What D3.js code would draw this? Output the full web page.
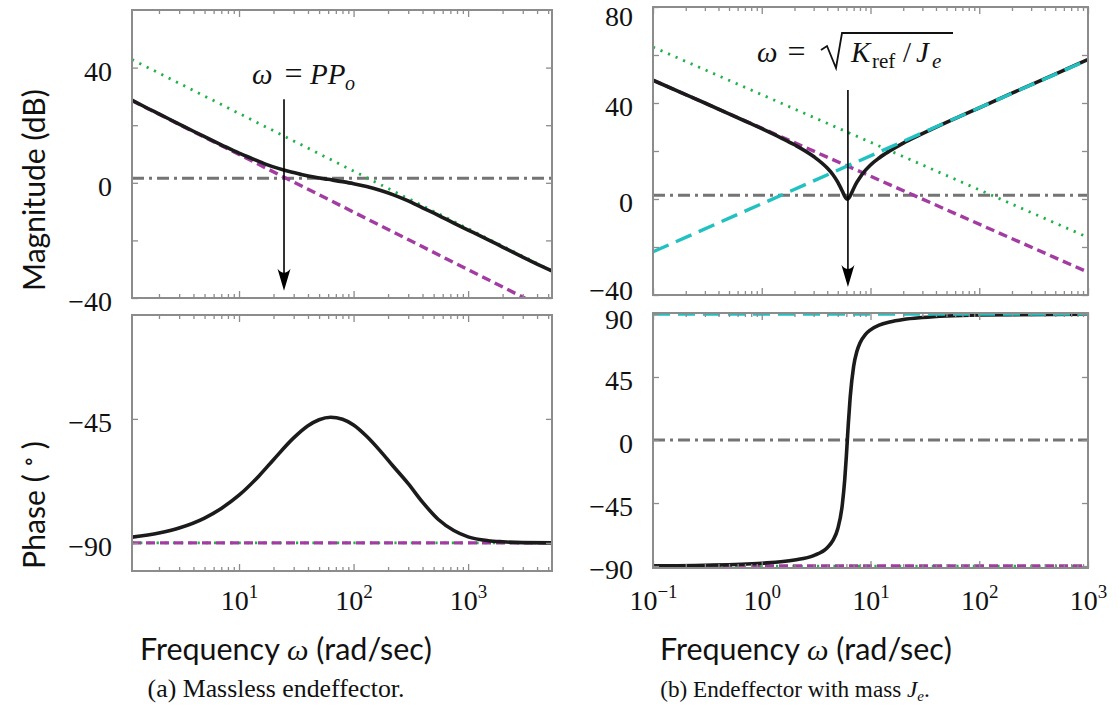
<!DOCTYPE html>
<html>
<head>
<meta charset="utf-8">
<script src="https://cdn.jsdelivr.net/npm/d3@7"></script>
<style>
  body { margin: 0; background: #fff; }
  svg { display: block; }
</style>
</head>
<body>
<svg id="fig" width="1119" height="713"></svg>
<script>
// ---------- (a) massless endeffector ----------
const freqMagA   = [1.163, 1.5, 2, 3, 4, 5, 7, 10, 13, 17, 22, 28, 35, 45, 60, 80, 100, 130, 170, 220, 300, 400, 550, 750, 1000, 1500, 2000, 3000, 4000, 5400];
const magA       = [28.7, 26.4, 23.9, 20.4, 17.9, 16.0, 13.2, 10.3, 8.4, 6.5, 5.0, 3.8, 2.9, 2.0, 1.2, 0.4, -0.3, -1.3, -2.6, -4.1, -6.3, -8.7, -11.3, -14.0, -16.4, -19.8, -22.3, -25.8, -28.2, -30.6];
const freqPhaseA = [1.163, 2, 3, 5, 7, 10, 15, 20, 30, 40, 50, 63, 80, 100, 130, 170, 220, 300, 400, 550, 750, 1000, 1500, 2000, 3000, 5400];
const phaseA     = [-87.9, -86.4, -84.6, -81.0, -77.5, -72.7, -65.6, -59.8, -51.9, -47.5, -45.3, -44.4, -45.1, -47.2, -51.3, -56.5, -62.0, -68.5, -75.2, -81.5, -85.5, -87.8, -89.2, -89.6, -89.9, -90.0];
// straight-line asymptotes, given at both ends of the frequency range
const endsA          = [1.163, 5400];
const lowMagA        = [28.5, -44.8];   // PPo / ω
const highMagA       = [42.8, -30.6];   // high-frequency asymptote
const unityMagA      = [1.6, 1.6];
const lowPhaseA      = [-90, -90];
const highPhaseA     = [-90, -90];
const magTicksA      = [-40, -20, 0, 20, 40];
const magLabelsA     = [-40, 0, 40];
const phaseTicksA    = [-90, -45];
const phaseLabelsA   = [-90, -45];
const decadesA       = [10, 100, 1000];
const arrowA         = { w: 24.7, from: 29, to: -37.5 };

// ---------- (b) endeffector with mass Je ----------
const freqMagB   = [0.1, 0.2, 0.3, 0.5, 0.7, 1, 1.5, 2, 3, 4, 4.5, 5, 5.5, 5.8, 6.0, 6.12, 6.25, 6.5, 7, 7.5, 8, 9, 10, 12, 15, 20, 30, 50, 100, 200, 500, 1000];
const magB       = [49.5, 43.5, 40.0, 35.5, 32.5, 29.3, 25.5, 22.6, 17.7, 12.9, 10.2, 7.0, 3.3, 1.1, 0.2, 0.0, 0.2, 1.3, 4.4, 7.0, 9.0, 12.0, 14.2, 17.1, 20.0, 23.3, 27.2, 31.9, 38.0, 44.1, 52.0, 58.1];
const freqPhaseB = [0.1, 0.3, 1, 2, 3, 4, 4.5, 5, 5.5, 5.8, 6.0, 6.12, 6.25, 6.5, 7, 7.5, 8, 9, 10, 12, 15, 20, 30, 50, 100, 1000];
const phaseB     = [-89.8, -89.4, -88.0, -85.7, -82.5, -76.9, -71.9, -63.4, -46.5, -28.0, -11.3, -0.3, 11.3, 30.3, 52.7, 63.4, 69.3, 75.5, 78.7, 82.0, 84.3, 86.1, 87.5, 88.6, 89.3, 89.9];
const endsB          = [0.1, 1000];
const springMagB     = [49.5, -30.5];   // Kref / ω
const stiffMagB      = [63.3, -16.0];
const massMagB       = [-22.0, 58.0];   // Je ω
const unityMagB      = [1.6, 1.6];
const springPhaseB   = [-90, -90];
const stiffPhaseB    = [-90, -90];
const massPhaseB     = [90, 90];
const zeroPhaseB     = [0, 0];
const magTicksB      = [-40, -20, 0, 20, 40, 60, 80];
const magLabelsB     = [-40, 0, 40, 80];
const phaseTicksB    = [-90, -45, 0, 45, 90];
const phaseLabelsB   = [-90, -45, 0, 45, 90];
const decadesB       = [0.1, 1, 10, 100, 1000];
const arrowB         = { w: 6.2, from: 45.4, to: -36.7 };

// ---------- styles ----------
const COL = { frame: '#8c8c8c', black: '#1b1b1b', magenta: '#a23ca2', green: '#1fb24a', cyan: '#22c1c1', gray: '#747474' };
const SERIF = '"Liberation Serif", "DejaVu Serif", serif';
const SANS = 'Lato, "Open Sans", "Noto Sans", sans-serif';
const STY = {
  black:   { stroke: COL.black,   width: 3.6, dash: null },
  magenta: { stroke: COL.magenta, width: 3.4, dash: '9,5' },
  green:   { stroke: COL.green,   width: 2.8, dash: '2.2,6' },
  cyan:    { stroke: COL.cyan,    width: 3.4, dash: '17,8' },
  gray:    { stroke: COL.gray,    width: 3.0, dash: '12,5,3,5' }
};

const svg = d3.select('#fig');
svg.append('rect').attr('width', 1119).attr('height', 713).attr('fill', '#fff');

const fmt = d3.format('d');
const isDecade = v => Math.abs(Math.log10(v) - Math.round(Math.log10(v))) < 1e-9;

function panel(p) {
  const x = d3.scaleLog().domain(p.xDomain).range([p.left, p.right]);
  const y = d3.scaleLinear().domain(p.yDomain).range([p.bottom, p.top]);
  const g = svg.append('g');
  const clipId = 'clip-' + p.name;
  g.append('clipPath').attr('id', clipId).append('rect')
    .attr('x', p.left).attr('y', p.top)
    .attr('width', p.right - p.left).attr('height', p.bottom - p.top);
  const plot = g.append('g').attr('clip-path', `url(#${clipId})`);
  const line = d3.line().x(d => x(d[0])).y(d => y(d[1])).curve(d3.curveMonotoneX);

  p.series.forEach(s => {
    const st = STY[s.style];
    plot.append('path')
      .datum(d3.zip(s.f, s.v))
      .attr('d', line)
      .attr('fill', 'none')
      .attr('stroke', st.stroke)
      .attr('stroke-width', st.width)
      .attr('stroke-dasharray', st.dash)
      .attr('stroke-linejoin', 'round');
  });

  // inward ticks on all four sides
  const minor = x.ticks().filter(v => !isDecade(v));
  const major = p.decades;
  const tickStyle = sel => {
    sel.select('.domain').remove();
    sel.attr('font-family', null).attr('font-size', null);
    sel.selectAll('.tick line').attr('stroke', COL.frame).attr('stroke-width', 1.3);
  };
  g.append('g').attr('transform', `translate(0,${p.bottom})`)
    .call(d3.axisBottom(x).tickValues(minor).tickSize(-4).tickFormat('')).call(tickStyle);
  g.append('g').attr('transform', `translate(0,${p.top})`)
    .call(d3.axisTop(x).tickValues(minor).tickSize(-4).tickFormat('')).call(tickStyle);
  g.append('g').attr('transform', `translate(0,${p.top})`)
    .call(d3.axisTop(x).tickValues(major).tickSize(-7).tickFormat('')).call(tickStyle);

  const xb = g.append('g').attr('transform', `translate(0,${p.bottom})`)
    .call(d3.axisBottom(x).tickValues(major).tickSize(-7).tickFormat(d => d)).call(tickStyle);
  xb.selectAll('.tick text').each(function (d) {
    const t = d3.select(this);
    t.text('');
    if (!p.xLabels) return;
    t.attr('y', p.xLabelBase - p.bottom).attr('dy', null)
      .attr('font-family', SERIF).attr('font-size', 28).attr('fill', '#111');
    t.append('tspan').text('10');
    t.append('tspan').attr('dy', -12).attr('font-size', 19).text(fmt(Math.round(Math.log10(d))));
  });

  const yl = g.append('g').attr('transform', `translate(${p.left},0)`)
    .call(d3.axisLeft(y).tickValues(p.yTicks).tickSize(-6).tickPadding(20)
      .tickFormat(d => p.yLabels.includes(d) ? fmt(d) : ''))
    .call(tickStyle);
  yl.selectAll('.tick text').attr('font-family', SERIF).attr('font-size', 28)
    .attr('fill', '#111')
    .attr('dy', d => {
      // labels at the ends of the range sit a little inside the frame
      const shift = (p.labelShift && p.labelShift[d]) || 0;
      return (0.45 * 28 + shift) + 'px';
    });
  g.append('g').attr('transform', `translate(${p.right},0)`)
    .call(d3.axisRight(y).tickValues(p.yTicks).tickSize(-6).tickFormat('')).call(tickStyle);

  g.append('rect')
    .attr('x', p.left).attr('y', p.top)
    .attr('width', p.right - p.left).attr('height', p.bottom - p.top)
    .attr('fill', 'none').attr('stroke', COL.frame).attr('stroke-width', 2);

  if (p.arrow) {
    const ax = x(p.arrow.w), ay0 = y(p.arrow.from), ay1 = y(p.arrow.to);
    g.append('line').attr('x1', ax).attr('x2', ax).attr('y1', ay0).attr('y2', ay1 - 10)
      .attr('stroke', '#000').attr('stroke-width', 1.6);
    g.append('path')
      .attr('d', `M${ax},${ay1} L${ax - 6.5},${ay1 - 22} Q${ax},${ay1 - 14} ${ax + 6.5},${ay1 - 22} Z`)
      .attr('fill', '#000');
  }
  return { x, y, g };
}

// ---------- panels ----------
panel({
  name: 'magA', left: 132, right: 552, top: 10, bottom: 298,
  xDomain: endsA, yDomain: [-40, 60], decades: decadesA,
  yTicks: magTicksA, yLabels: magLabelsA, xLabels: false,
  series: [
    { f: endsA, v: unityMagA, style: 'gray' },
    { f: endsA, v: highMagA, style: 'green' },
    { f: endsA, v: lowMagA, style: 'magenta' },
    { f: freqMagA, v: magA, style: 'black' }
  ],
  arrow: arrowA
});

panel({
  name: 'phA', left: 132, right: 552, top: 315, bottom: 571,
  xDomain: endsA, yDomain: [-100.2, -7.3], decades: decadesA,
  yTicks: phaseTicksA, yLabels: phaseLabelsA, xLabels: true, xLabelBase: 610,
  series: [
    { f: endsA, v: highPhaseA, style: 'green' },
    { f: endsA, v: lowPhaseA, style: 'magenta' },
    { f: freqPhaseA, v: phaseA, style: 'black' }
  ]
});

panel({
  name: 'magB', left: 653, right: 1088, top: 7, bottom: 295,
  xDomain: endsB, yDomain: [-40, 80], decades: decadesB,
  yTicks: magTicksB, yLabels: magLabelsB, xLabels: false,
  labelShift: { '80': 6, '-40': -8 },
  series: [
    { f: endsB, v: unityMagB, style: 'gray' },
    { f: endsB, v: stiffMagB, style: 'green' },
    { f: endsB, v: springMagB, style: 'magenta' },
    { f: freqMagB, v: magB, style: 'black' },
    { f: endsB, v: massMagB, style: 'cyan' }
  ],
  arrow: arrowB
});

panel({
  name: 'phB', left: 653, right: 1088, top: 313, bottom: 568,
  xDomain: endsB, yDomain: [-91.4, 90.7], decades: decadesB,
  yTicks: phaseTicksB, yLabels: phaseLabelsB, xLabels: true, xLabelBase: 610,
  labelShift: { '90': 2 },
  series: [
    { f: endsB, v: zeroPhaseB, style: 'gray' },
    { f: endsB, v: stiffPhaseB, style: 'green' },
    { f: endsB, v: springPhaseB, style: 'magenta' },
    { f: freqPhaseB, v: phaseB, style: 'black' },
    { f: endsB, v: massPhaseB, style: 'cyan' }
  ]
});

// ---------- text ----------
function fit(sel, width) {
  const len = sel.node().getComputedTextLength();
  const fs = parseFloat(sel.attr('font-size'));
  sel.attr('font-size', fs * width / len);
  return sel;
}

const magTitle = svg.append('text').attr('transform', 'translate(45,190) rotate(-90)')
  .attr('text-anchor', 'middle').attr('font-family', SANS).attr('font-size', 27).attr('fill', '#111')
  .text('Magnitude (dB)');
fit(magTitle, 202);
const titleSize = parseFloat(magTitle.attr('font-size'));

const phTitle = svg.append('text').attr('transform', 'translate(45,505) rotate(-90)')
  .attr('text-anchor', 'middle').attr('font-family', SANS).attr('font-size', titleSize).attr('fill', '#111');
phTitle.append('tspan').text('Phase (');
phTitle.append('tspan').attr('font-family', SERIF).attr('font-size', titleSize * 0.75)
  .attr('dx', 7).attr('dy', -9).text('∘');
phTitle.append('tspan').attr('dx', 7).attr('dy', 9).text(')');

[286, 806].forEach(cx => {
  const t = svg.append('text').attr('x', cx).attr('y', 660).attr('text-anchor', 'middle')
    .attr('font-family', SANS).attr('font-size', 27).attr('fill', '#111');
  t.append('tspan').text('Frequency ');
  t.append('tspan').attr('font-family', SERIF).attr('font-style', 'italic').text('ω');
  t.append('tspan').text(' (rad/sec)');
  fit(t, 292);
});

const capA = svg.append('text').attr('x', 276).attr('y', 697).attr('text-anchor', 'middle')
  .attr('font-family', SERIF).attr('font-size', 22).attr('fill', '#111')
  .text('(a) Massless endeffector.');
fit(capA, 257);

const capB = svg.append('text').attr('x', 795).attr('y', 697).attr('text-anchor', 'middle')
  .attr('font-family', SERIF).attr('font-size', 22).attr('fill', '#111');
capB.append('tspan').text('(b) Endeffector with mass ');
capB.append('tspan').attr('font-style', 'italic').text('J');
capB.append('tspan').attr('font-style', 'italic').attr('font-size', 15).attr('dy', 4).text('e');
capB.append('tspan').attr('dy', -4).text('.');
fit(capB, 270);

// math annotations, set piece by piece
function mathText(x, y, str, opts = {}) {
  return svg.append('text').attr('x', x).attr('y', y)
    .attr('text-anchor', opts.anchor || 'start')
    .attr('font-family', SERIF).attr('font-size', opts.size || 29).attr('fill', '#111')
    .attr('font-style', opts.italic ? 'italic' : null).text(str);
}

// ω = PP_o
mathText(252, 84, 'ω', { italic: true });
mathText(293.5, 84, '=', { anchor: 'middle', size: 32 });
mathText(310, 84, 'PP', { italic: true });
mathText(345, 90, 'o', { italic: true, size: 20 });

// ω = sqrt(Kref / Je)
mathText(757, 62, 'ω', { italic: true });
mathText(796.5, 62, '=', { anchor: 'middle', size: 32 });
svg.append('path')
  .attr('d', 'M821,50 L827,46 L836,68 L842,33 L953,33')
  .attr('fill', 'none').attr('stroke', '#111').attr('stroke-width', 1.8).attr('stroke-linejoin', 'miter');
mathText(851, 62, 'K', { italic: true });
mathText(872, 68, 'ref', { size: 21 });
mathText(903, 62, '/', {});
mathText(916, 62, 'J', { italic: true });
mathText(932, 68, 'e', { italic: true, size: 21 });
</script>
</body>
</html>
